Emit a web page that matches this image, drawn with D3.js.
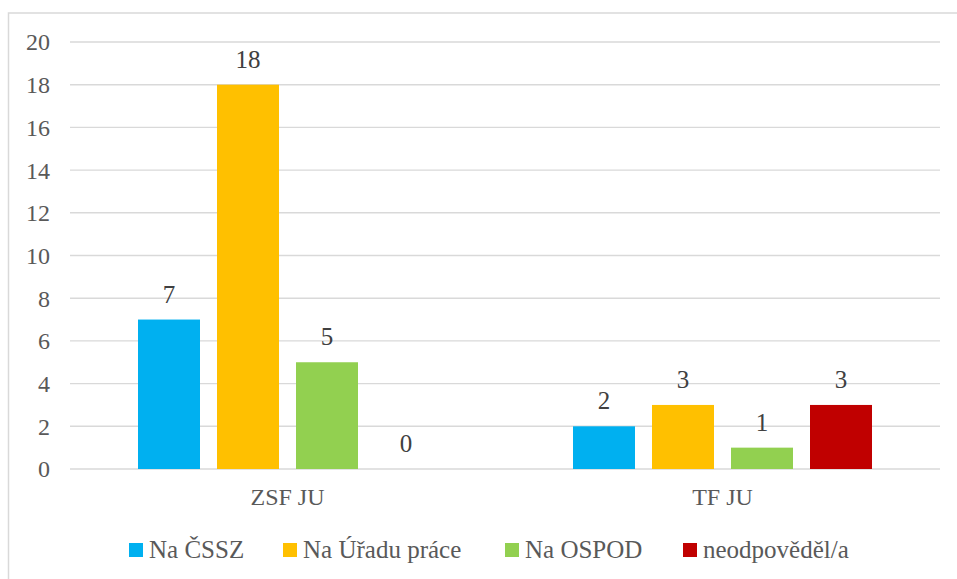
<!DOCTYPE html>
<html>
<head>
<meta charset="utf-8">
<script src="https://cdn.jsdelivr.net/npm/d3@7"></script>
<style>
  body { margin: 0; background: #fff; }
</style>
</head>
<body>
<div class="chart"></div>
<script>
// categories, series and values
var categories = ["ZSF JU", "TF JU"];
var seriesNames = ["Na ČSSZ", "Na Úřadu práce", "Na OSPOD", "neodpověděl/a"];
var seriesColors = ["#00B0F0", "#FFC000", "#92D050", "#C00000"];
var valuesZSF = [7, 18, 5, 0];
var valuesTF = [2, 3, 1, 3];
var yTicks = [0, 2, 4, 6, 8, 10, 12, 14, 16, 18, 20];

var svgWidth = 957;
var svgHeight = 579;
var serif = '"Liberation Serif", Tinos, serif';

var margin = { top: 42, right: 17, bottom: 110, left: 70 };
var width = svgWidth - margin.left - margin.right;
var height = 469 - margin.top;

var svg = d3.select(".chart")
    .append("svg")
    .attr("width", svgWidth)
    .attr("height", svgHeight);

// outer frame (runs past the right/bottom edge like the original)
svg.append("rect")
    .attr("x", 8.5)
    .attr("y", 13)
    .attr("width", 980)
    .attr("height", 600)
    .attr("fill", "none")
    .attr("stroke", "#d9d9d9")
    .attr("stroke-width", 1.5);

var chartGroup = svg.append("g")
    .attr("transform", `translate(${margin.left}, ${margin.top})`);

var data = categories.map((c, i) => ({
    category: c,
    values: (i == 0 ? valuesZSF : valuesTF).map((v, j) => ({ name: seriesNames[j], value: v, idx: j }))
}));

var x0 = d3.scaleBand()
    .domain(categories)
    .range([0, width]);

// bars of 62px with 17px gaps inside each 435px category
var groupW = 299;
var x1 = d3.scaleBand()
    .domain(seriesNames)
    .range([0, groupW])
    .paddingInner(17 / 79);

var y = d3.scaleLinear()
    .domain([0, 20])
    .range([height, 0]);

// gridlines
chartGroup.append("g")
    .selectAll("line")
    .data(yTicks)
    .enter()
    .append("line")
    .attr("x1", 0)
    .attr("x2", width)
    .attr("y1", d => y(d))
    .attr("y2", d => y(d))
    .attr("stroke", "#d9d9d9")
    .attr("stroke-width", 1.4);

// y tick labels
chartGroup.append("g")
    .selectAll("text")
    .data(yTicks)
    .enter()
    .append("text")
    .attr("x", -20)
    .attr("y", d => y(d))
    .attr("dy", "0.35em")
    .attr("text-anchor", "end")
    .attr("fill", "#595959")
    .style("font-family", serif, "important")
    .style("font-size", "24px")
    .text(d => d);

var groups = chartGroup.selectAll(".grp")
    .data(data)
    .enter()
    .append("g")
    .attr("class", "grp")
    .attr("transform", d => `translate(${x0(d.category) + (x0.bandwidth() - groupW) / 2}, 0)`);

groups.selectAll("rect")
    .data(d => d.values)
    .enter()
    .append("rect")
    .attr("x", d => x1(d.name))
    .attr("y", d => y(d.value))
    .attr("width", x1.bandwidth())
    .attr("height", d => height - y(d.value))
    .attr("fill", d => seriesColors[d.idx]);

// data labels
groups.selectAll(".lbl")
    .data(d => d.values)
    .enter()
    .append("text")
    .attr("class", "lbl")
    .attr("x", d => x1(d.name) + x1.bandwidth() / 2)
    .attr("y", d => y(d.value) - 17)
    .attr("text-anchor", "middle")
    .attr("fill", "#404040")
    .style("font-family", serif, "important")
    .style("font-size", "25px")
    .text(d => d.value);

// category labels
chartGroup.append("g")
    .selectAll("text")
    .data(categories)
    .enter()
    .append("text")
    .attr("x", d => x0(d) + x0.bandwidth() / 2)
    .attr("y", height + 36)
    .attr("text-anchor", "middle")
    .attr("fill", "#595959")
    .style("font-family", serif, "important")
    .style("font-size", "24px")
    .text(d => d);

// legend
var legendX = [129, 283, 505, 683];
var legend = svg.append("g");
seriesNames.forEach((name, i) => {
    legend.append("rect")
        .attr("x", legendX[i])
        .attr("y", 543)
        .attr("width", 14)
        .attr("height", 14)
        .attr("fill", seriesColors[i]);
    legend.append("text")
        .attr("x", legendX[i] + 20)
        .attr("y", 558)
        .attr("fill", "#595959")
        .style("font-family", serif, "important")
        .style("font-size", "25px")
        .text(name);
});
</script>
</body>
</html>
